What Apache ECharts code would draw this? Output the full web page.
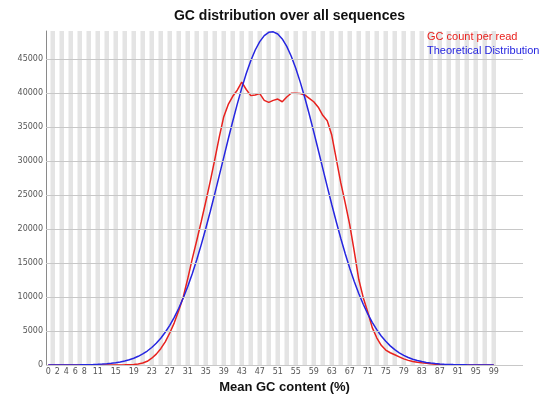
<!DOCTYPE html>
<html>
<head>
<meta charset="utf-8">
<script src="https://cdn.jsdelivr.net/npm/echarts@6/dist/echarts.min.js"></script>
<style>
html,body{margin:0;padding:0;background:#fff;}
#chart{width:553px;height:396px;}
</style>
</head>
<body>
<div id="chart"></div>
<script>
// Mean GC content categories (%)
const gcCategories = [0,1,2,3,4,5,6,7,8,9,10,11,12,13,14,15,16,17,18,19,20,21,22,23,24,25,26,27,28,29,30,31,32,33,34,35,36,37,38,39,40,41,42,43,44,45,46,47,48,49,50,51,52,53,54,55,56,57,58,59,60,61,62,63,64,65,66,67,68,69,70,71,72,73,74,75,76,77,78,79,80,81,82,83,84,85,86,87,88,89,90,91,92,93,94,95,96,97,98,99];
// empty slots to the right of the data (plot area extends past 99)
const emptyCategories = [100,101,102,103,104,105];
const xTickLabels = [0,2,4,6,8,11,15,19,23,27,31,35,39,43,47,51,55,59,63,67,71,75,79,83,87,91,95,99];
const yTickValues = [0,5000,10000,15000,20000,25000,30000,35000,40000,45000];
const yMax = 49100;

const gcCountPerRead = [
  0,0,0,0,0,0,0,0,0,0,
  0,0,0,0,0,5,10,20,40,80,
  160,300,550,1000,1600,2400,3400,4700,6200,8000,
  10000,12700,15600,18300,21100,24000,27000,30200,33500,36500,
  38300,39500,40400,41600,40500,39600,39700,39900,38900,38600,
  38900,39100,38700,39400,39950,39950,39900,39700,39200,38700,
  37900,36700,35900,33800,30300,26800,23800,20600,16700,12600,
  9900,7800,5500,4000,2900,2200,1800,1500,1200,900,
  680,530,420,320,250,180,120,80,50,30,
  20,12,8,5,3,2,1,1,0,0
];
const theoreticalDistribution = [
  2,3,4,6,9,13,18,26,37,52,
  73,101,138,187,253,338,449,590,771,997,
  1280,1628,2056,2575,3199,3940,4812,5828,7002,8341,
  9855,11550,13426,15478,17696,20061,22560,25163,27832,30532,
  33218,35839,38353,40705,42848,44728,46305,47544,48417,48901,
  48982,48659,47941,46844,45395,43630,41586,39318,36864,34275,
  31609,28910,26226,23590,21050,18627,16345,14225,12279,10515,
  8928,7517,6277,5199,4272,3481,2812,2254,1791,1410,
  1103,855,658,502,379,284,211,156,114,83,
  60,43,30,21,15,10,7,5,3,2
];

const allCategories = gcCategories.concat(emptyCategories).map(String);
const stripeData = gcCategories.map(c => (c % 2 === 1 ? yMax : '-'));

const chart = echarts.init(document.getElementById('chart'), null, {renderer: 'canvas'});
chart.setOption({
  animation: false,
  backgroundColor: '#fff',
  title: {
    text: 'GC distribution over all sequences',
    left: 284.5,
    textAlign: 'center',
    top: 4,
    textStyle: {fontFamily: 'Liberation Sans', fontWeight: 'bold', fontSize: 14, color: '#111'}
  },
  legend: {
    orient: 'vertical',
    left: 417,
    top: 26,
    itemWidth: 0,
    itemHeight: 0,
    itemGap: 3,
    icon: 'rect',
    selectedMode: false,
    textStyle: {fontFamily: 'Liberation Sans', fontSize: 11},
    data: [
      {name: 'GC count per read', textStyle: {color: '#e8221e'}},
      {name: 'Theoretical Distribution', textStyle: {color: '#2626e0'}}
    ]
  },
  grid: {left: 46, right: 30, top: 31, bottom: 31, containLabel: false, outerBoundsMode: 'none'},
  xAxis: {
    type: 'category',
    data: allCategories,
    boundaryGap: true,
    name: 'Mean GC content (%)',
    nameLocation: 'middle',
    nameGap: 14,
    nameTextStyle: {fontFamily: 'Liberation Sans', fontWeight: 'bold', fontSize: 13, color: '#111'},
    axisLine: {show: false},
    axisTick: {show: false},
    splitLine: {show: false},
    axisLabel: {
      interval: function (index, value) { return xTickLabels.indexOf(Number(value)) >= 0 && index < gcCategories.length; },
      fontFamily: 'DejaVu Sans', fontSize: 8, color: '#555', margin: 3
    }
  },
  yAxis: {
    type: 'value',
    min: 0,
    max: yMax,
    interval: 5000,
    axisLine: {show: true, lineStyle: {color: '#8a8a8a', width: 1}},
    axisTick: {show: false},
    splitLine: {show: false},
    axisLabel: {
      showMaxLabel: false,
      formatter: function (v) { return String(v); },
      fontFamily: 'DejaVu Sans', fontSize: 8, color: '#555', margin: 3
    }
  },
  series: [
    {
      name: 'stripes',
      type: 'bar',
      data: stripeData,
      barWidth: '100%',
      barGap: '0%',
      silent: true,
      z: 0,
      itemStyle: {color: '#e4e4e4'},
      markLine: {
        silent: true,
        symbol: ['none', 'none'],
        label: {show: false},
        lineStyle: {color: '#c8c8c8', width: 1, type: 'solid'},
        data: yTickValues.map(v => ({yAxis: v}))
      }
    },
    {
      name: 'GC count per read',
      type: 'line',
      data: gcCountPerRead,
      symbol: 'none',
      z: 3,
      lineStyle: {color: '#e8221e', width: 1.5},
      itemStyle: {color: '#e8221e'}
    },
    {
      name: 'Theoretical Distribution',
      type: 'line',
      data: theoreticalDistribution,
      symbol: 'none',
      z: 4,
      lineStyle: {color: '#2626e0', width: 1.5},
      itemStyle: {color: '#2626e0'}
    }
  ]
});
</script>
</body>
</html>
